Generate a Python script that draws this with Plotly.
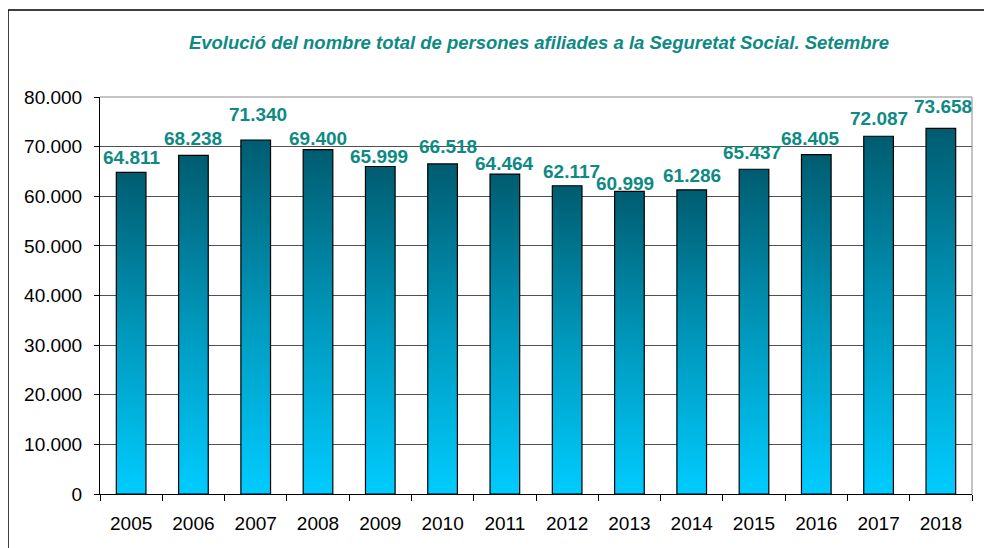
import plotly.graph_objects as go

years = [2005, 2006, 2007, 2008, 2009, 2010, 2011, 2012, 2013, 2014, 2015, 2016, 2017, 2018]
afiliats = [64811, 68238, 71340, 69400, 65999, 66518, 64464, 62117, 60999, 61286, 65437, 68405, 72087, 73658]
title_text = "Evolució del nombre total de persones afiliades a la Seguretat Social. Setembre"

# label placement tweaks (px) to mimic the manually placed labels of the original
label_dy = [15, 17, 25, 11, 10, 17, 11, 14, 8, 14, 17, 16, 18, 22]
label_dx = [0, 0, 2, 0, -1, 5, 0, 4, -4, 0, -2, -6, 0, 2]

TEAL = "#0E8A83"
FONT = "Liberation Sans, Arial, sans-serif"
half = 0.238

# page body has an 8px margin; plot area target in window px: x 100..972, y 97..494
ML, MT, MR, MB = 92, 89, 28, 62
PW, PH = 992 - ML - MR, 548 - MT - MB

def px_x(wx):
    return (wx - 8 - ML) / PW

def px_y(wy):
    return (548 - MB - (wy - 8)) / PH

fig = go.Figure()
for yr, v in zip(years, afiliats):
    fig.add_trace(go.Scatter(
        x=[yr - half, yr - half, yr + half, yr + half, yr - half],
        y=[0, v, v, 0, 0],
        mode="lines",
        fill="toself",
        fillgradient=dict(type="vertical", start=0, stop=v,
                          colorscale=[[0, "#00CCFF"], [0.5, "#0098BC"], [1, "#005C70"]]),
        line=dict(color="#000000", width=1.2),
        hoverinfo="skip",
        showlegend=False,
    ))

# invisible trace for boundary ticks axis
fig.add_trace(go.Scatter(x=[years[0]], y=[0], xaxis="x2", mode="markers",
                         marker=dict(opacity=0), showlegend=False, hoverinfo="skip"))

annotations = [
    dict(x=yr, y=v, xref="x", yref="y", text=f"{v:,}".replace(",", "."),
         showarrow=False, yanchor="middle", xanchor="center", yshift=dy, xshift=dx,
         font=dict(family=FONT, size=19, color=TEAL, weight="bold"))
    for yr, v, dy, dx in zip(years, afiliats, label_dy, label_dx)
]

fig.update_layout(
    width=992, height=548,
    margin=dict(l=ML, r=MR, t=MT, b=MB),
    paper_bgcolor="white", plot_bgcolor="white",
    separators=",.",
    title=dict(text=f"<b><i>{title_text}</i></b>", x=(539 - 8) / 992,
               xanchor="center", xref="container",
               y=1 - (43 - 8) / 548, yanchor="middle",
               font=dict(family=FONT, size=18.5, color=TEAL)),
    xaxis=dict(range=[2004.5, 2018.5], tickvals=years, ticktext=[str(y) for y in years],
               ticks="", showgrid=False, zeroline=False,
               showline=True, linecolor="#000000", linewidth=1,
               ticklabelstandoff=12,
               tickfont=dict(family=FONT, size=19, color="#000000")),
    xaxis2=dict(range=[2004.5, 2018.5], overlaying="x", side="bottom",
                tickvals=[y - 0.5 for y in years] + [years[-1] + 0.5],
                ticks="outside", ticklen=6, tickcolor="#000000", showticklabels=False,
                showgrid=False, zeroline=False, showline=False),
    yaxis=dict(range=[0, 80000], dtick=10000, tickformat=",d",
               ticks="outside", ticklen=5, tickcolor="#000000",
               showgrid=True, gridcolor="#505050", gridwidth=1,
               zeroline=False, showline=True, linecolor="#000000", linewidth=1,
               ticklabelstandoff=8,
               tickfont=dict(family=FONT, size=19, color="#000000")),
    annotations=annotations,
    shapes=[
        dict(type="line", xref="paper", yref="paper", x0=1, x1=1, y0=0, y1=1,
             line=dict(color="#888888", width=1)),
        dict(type="line", xref="paper", yref="paper", x0=0, x1=1, y0=1, y1=1,
             line=dict(color="#888888", width=1)),
        dict(type="line", xref="paper", yref="paper", x0=px_x(8), x1=px_x(1000),
             y0=px_y(10), y1=px_y(10), line=dict(color="#000000", width=1.5)),
        dict(type="line", xref="paper", yref="paper", x0=px_x(8), x1=px_x(8),
             y0=px_y(10), y1=px_y(560), line=dict(color="#000000", width=1.5)),
    ],
)

fig.write_html("out.html")
